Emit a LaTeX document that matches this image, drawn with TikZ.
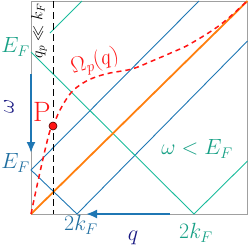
\documentclass[tikz,border=0pt]{standalone}
\usepackage{fix-cm}
\usetikzlibrary{arrows.meta}
\definecolor{cblue}{RGB}{31,119,180}
\definecolor{corange}{RGB}{255,127,14}
\definecolor{cteal}{RGB}{26,188,156}
\definecolor{cgreentxt}{RGB}{22,160,133}
\definecolor{cbluetxt}{RGB}{31,110,160}
\definecolor{cnavy}{RGB}{25,25,130}
\definecolor{cbox}{RGB}{160,160,160}
\definecolor{cred}{RGB}{255,20,20}
\begin{document}
\begin{tikzpicture}[x=1pt,y=-1pt,
  lbl/.style={inner sep=0pt,font=\fontsize{22}{26}\selectfont},
  smalllbl/.style={inner sep=0pt,font=\fontsize{16}{19}\selectfont},
  bigarrow/.style={cblue,line width=2pt,-{Latex[length=11pt,width=9pt]}},
  thinblue/.style={cblue,line width=0.9pt},
  thinteal/.style={cteal,line width=0.9pt}]
\useasboundingbox (0,0) rectangle (249,247);
% frame
\coordinate (O) at (31,214);
\coordinate (TR) at (247.5,1);
\draw[cbox,line width=1pt] (31,1) rectangle (247.5,214);
% blue case
\coordinate (EFb) at (31,170);
\coordinate (KFb) at (77,214);
\coordinate (Bt) at (199,1);
\coordinate (Br) at (247.5,41);
\draw[thinblue] (Bt) -- (EFb) -- (KFb) -- (Br);
% teal case
\coordinate (EFg) at (31,52);
\coordinate (KFg) at (194,214);
\coordinate (Gr) at (247.5,161);
\coordinate (Ga) at (50,33);
\coordinate (Gt) at (82,1);
\draw[thinteal] (EFg) -- (KFg) -- (Gr);
\draw[thinteal] (Ga) -- (Gt);
% orange
\draw[corange,line width=1.8pt] (O) -- (TR);
% dashed vertical
\coordinate (Dt) at (53,1);
\coordinate (Db) at (53,214);
\draw[black,line width=0.9pt,dash pattern=on 7pt off 4pt] (Dt) -- (Db);
% plasmon curve
\draw[cred,line width=1.5pt,dash pattern=on 5pt off 4pt] plot[smooth,tension=0.6] coordinates
  {(31,214) (40,172) (49,134) (53,126) (60,110) (70,94) (80,85) (93,78) (110,73) (132,69) (152,61) (173,52) (190,44) (220,25) (246,2)};
% arrows
\coordinate (Va) at (31,74);
\coordinate (Vb) at (31,153);
\draw[bigarrow] (Va) -- (Vb);
\coordinate (Ha) at (170,214);
\coordinate (Hb) at (86,214);
\draw[bigarrow] (Ha) -- (Hb);
% point P
\node[circle,fill=cred,draw=black!70!red,line width=0.6pt,inner sep=0pt,minimum size=8pt] (Pdot) at (53,126) {};
% labels
\node[lbl,cred,font=\fontsize{28}{32}\selectfont] (P) at (42,112) {P};
\node[lbl,cred,rotate=15] (Om) at (95,62) {$\Omega_p(q)$};
\node[smalllbl,black,rotate=90] (qp) at (39,31) {$q_p\ll k_F$};
\node[lbl,cnavy,rotate=90] (w) at (9,106) {$\omega$};
\node[lbl,cnavy] (q) at (133,238) {$q$};
\node[lbl,cgreentxt] (EFgl) at (15.5,47) {$E_F$};
\node[lbl,cbluetxt] (EFbl) at (15.5,163) {$E_F$};
\node[lbl,cbluetxt] (KFbl) at (81,225) {$2k_F$};
\node[lbl,cgreentxt] (KFgl) at (196,233) {$2k_F$};
\node[lbl,cgreentxt] (wl) at (197,149) {$\omega<E_F$};
\end{tikzpicture}
\end{document}
